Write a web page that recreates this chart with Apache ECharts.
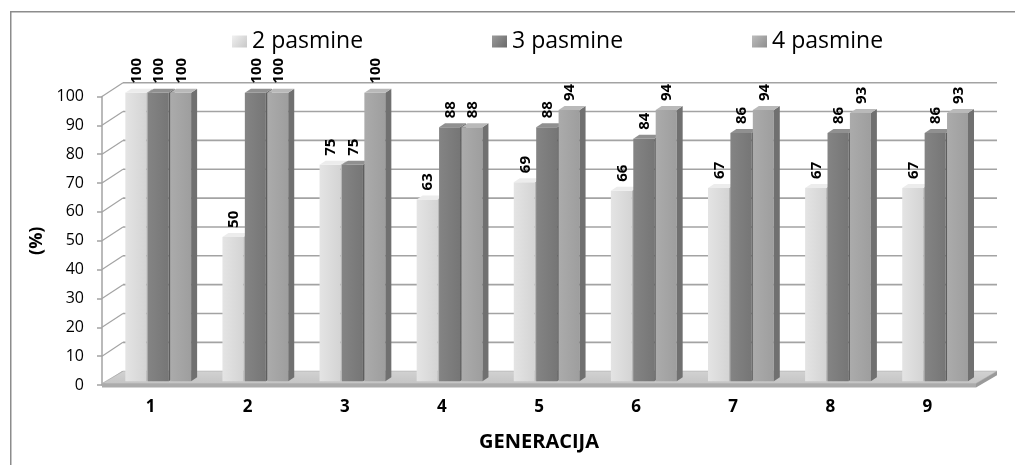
<!DOCTYPE html>
<html>
<head>
<meta charset="utf-8">
<script src="https://cdn.jsdelivr.net/npm/echarts@6/dist/echarts.min.js"></script>
<style>
  html, body { margin: 0; padding: 0; background: #fff; }
  #chart { width: 1015px; height: 465px; }
</style>
</head>
<body>
<div id="chart"></div>
<script>
// Generations and share (%) per breed count
const categories = ['1', '2', '3', '4', '5', '6', '7', '8', '9'];
const pasmine2 = [100, 50, 75, 63, 69, 66, 67, 67, 67];
const pasmine3 = [100, 100, 75, 88, 88, 84, 86, 86, 86];
const pasmine4 = [100, 100, 100, 88, 94, 94, 94, 93, 93];
const seriesNames = ['2 pasmine', '3 pasmine', '4 pasmine'];
const yTicks = [0, 10, 20, 30, 40, 50, 60, 70, 80, 90, 100];

const FONT = '"Open Sans", "DejaVu Sans", sans-serif';

// Pseudo-3D geometry (pixels)
const WALL_DX = 21, WALL_DY = -13.8;   // depth of the back wall
const FRONT_DY = -3.8;                  // bars stand slightly behind the front edge
const BAR_DX = 6, BAR_DY = -4;          // depth of each bar

const palettes = [
  { front: ['#e4e4e4', '#d4d4d4'], side: '#b8b8b8', top: '#ececec', legend: ['#f0f0f0', '#c8c8c8'] },
  { front: ['#848484', '#767676'], side: '#5e5e5e', top: '#909090', legend: ['#9a9a9a', '#6a6a6a'] },
  { front: ['#ababab', '#9e9e9e'], side: '#707070', top: '#b9b9b9', legend: ['#bcbcbc', '#8e8e8e'] }
];

function grad(c) {
  return new echarts.graphic.LinearGradient(0, 0, 1, 0, [
    { offset: 0, color: c[0] }, { offset: 1, color: c[1] }
  ]);
}

function barRenderer(slot, pal) {
  return function (params, api) {
    const cat = api.value(0), v = api.value(1);
    const band = api.size([1, 0])[0];
    const base = api.coord([cat, 0]);
    const top = api.coord([cat, v]);
    const slotW = band * 0.2307;
    const barW = band * 0.216;
    const cx = base[0] + band * 0.079 + (slot - 1) * slotW;
    const x0 = cx - barW / 2, x1 = cx + barW / 2;
    const yb = base[1] + FRONT_DY, yt = top[1] + FRONT_DY;
    return {
      type: 'group',
      children: [
        { type: 'rect', shape: { x: x0, y: yt, width: barW, height: yb - yt },
          style: { fill: grad(pal.front) } },
        { type: 'polygon', shape: { points: [[x1, yt], [x1 + BAR_DX, yt + BAR_DY], [x1 + BAR_DX, yb + BAR_DY], [x1, yb]] },
          style: { fill: pal.side } },
        { type: 'polygon', shape: { points: [[x0, yt], [x1, yt], [x1 + BAR_DX, yt + BAR_DY], [x0 + BAR_DX, yt + BAR_DY]] },
          style: { fill: pal.top } },
        { type: 'text', x: cx + 1, y: yt + BAR_DY - 5, rotation: Math.PI / 2,
          style: { text: String(v), align: 'left', verticalAlign: 'middle',
                   fontSize: 15, fontWeight: 'bold', fontFamily: FONT, fill: '#000' } }
      ]
    };
  };
}

// Back wall gridlines, left wall diagonals and floor
function frameRenderer(params, api) {
  const band = api.size([1, 0])[0];
  const first = api.coord([0, 0]);
  const last = api.coord([categories.length - 1, 0]);
  const xl = first[0] - band / 2, xr = last[0] + band / 2;
  const children = [];
  yTicks.forEach(function (t) {
    const y = api.coord([0, t])[1];
    if (t > 0) {
      children.push({ type: 'line', shape: { x1: xl + WALL_DX, y1: y + WALL_DY, x2: xr + WALL_DX, y2: y + WALL_DY },
        style: { stroke: '#a3a3a3', lineWidth: 1.6 } });
    }
    children.push({ type: 'line', shape: { x1: xl, y1: y, x2: xl + WALL_DX, y2: y + WALL_DY },
      style: { stroke: '#a3a3a3', lineWidth: 1.2 } });
  });
  const y0 = first[1];
  children.push({ type: 'polygon',
    shape: { points: [[xl, y0 - 1.5], [xr, y0 - 1.5], [xr + WALL_DX, y0 + WALL_DY], [xl + WALL_DX, y0 + WALL_DY]] },
    style: { fill: new echarts.graphic.LinearGradient(0, 0, 0, 1, [
      { offset: 0, color: '#d2d2d2' }, { offset: 1, color: '#c4c4c4' }]), stroke: '#b0b0b0', lineWidth: 0.8 } });
  children.push({ type: 'polygon',
    shape: { points: [[xl, y0 - 1.5], [xr, y0 - 1.5], [xr, y0 + 2.5], [xl, y0 + 2.5]] },
    style: { fill: '#ababab' } });
  children.push({ type: 'polygon',
    shape: { points: [[xr, y0 - 1.5], [xr + WALL_DX, y0 + WALL_DY], [xr + WALL_DX, y0 + WALL_DY + 4], [xr, y0 + 2.5]] },
    style: { fill: '#9a9a9a' } });
  return { type: 'group', children: children };
}

const chart = echarts.init(document.getElementById('chart'), null, { renderer: 'canvas' });

const seriesData = [pasmine2, pasmine3, pasmine4];
const legendLefts = [227, 487, 747];

const option = {
  backgroundColor: '#fff',
  animation: false,
  graphic: [{
    type: 'rect', left: 10, top: 11, z: -10,
    shape: { width: 1020, height: 470 },
    style: { fill: '#fff', stroke: '#8c8c8c', lineWidth: 1.5 }
  }],
  legend: seriesNames.map(function (n, i) {
    return {
      data: [{ name: n, icon: 'rect' }],
      left: legendLefts[i], top: 25,
      itemWidth: 15, itemHeight: 12,
      textStyle: { fontSize: 23, fontFamily: FONT, color: '#000' }
    };
  }),
  grid: { left: 102, right: 39, top: 96.5, bottom: 80 },
  xAxis: {
    type: 'category', data: categories,
    axisLine: { show: false }, axisTick: { show: false },
    axisLabel: { fontSize: 17, fontWeight: 'bold', fontFamily: FONT, color: '#000', margin: 14 },
    name: 'GENERACIJA', nameLocation: 'middle', nameGap: 47,
    nameTextStyle: { fontSize: 20, fontWeight: 'bold', fontFamily: FONT, color: '#000' }
  },
  yAxis: {
    type: 'value', min: 0, max: 100, interval: 10,
    axisLine: { show: true, lineStyle: { color: '#a3a3a3', width: 1.5 } },
    axisTick: { show: true, length: 5, lineStyle: { color: '#a3a3a3', width: 1.5 } },
    splitLine: { show: false },
    axisLabel: { fontSize: 16, fontFamily: FONT, color: '#000', margin: 18 },
    name: '(%)', nameLocation: 'middle', nameGap: 55, nameRotate: 90,
    nameTextStyle: { fontSize: 18, fontWeight: 'bold', fontFamily: FONT, color: '#000' }
  },
  series: [{
    type: 'custom', name: 'frame', z: 1, silent: true,
    data: [[0, 0]], encode: { x: 0, y: 1 },
    renderItem: frameRenderer
  }].concat(seriesData.map(function (vals, i) {
    return {
      type: 'custom', name: seriesNames[i], z: 2 + i,
      itemStyle: { color: new echarts.graphic.LinearGradient(0, 0, 1, 1, [
        { offset: 0, color: palettes[i].legend[0] }, { offset: 1, color: palettes[i].legend[1] }]) },
      data: vals.map(function (v, k) { return [k, v]; }),
      encode: { x: 0, y: 1 },
      renderItem: barRenderer(i, palettes[i])
    };
  }))
};

chart.setOption(option);
</script>
</body>
</html>
